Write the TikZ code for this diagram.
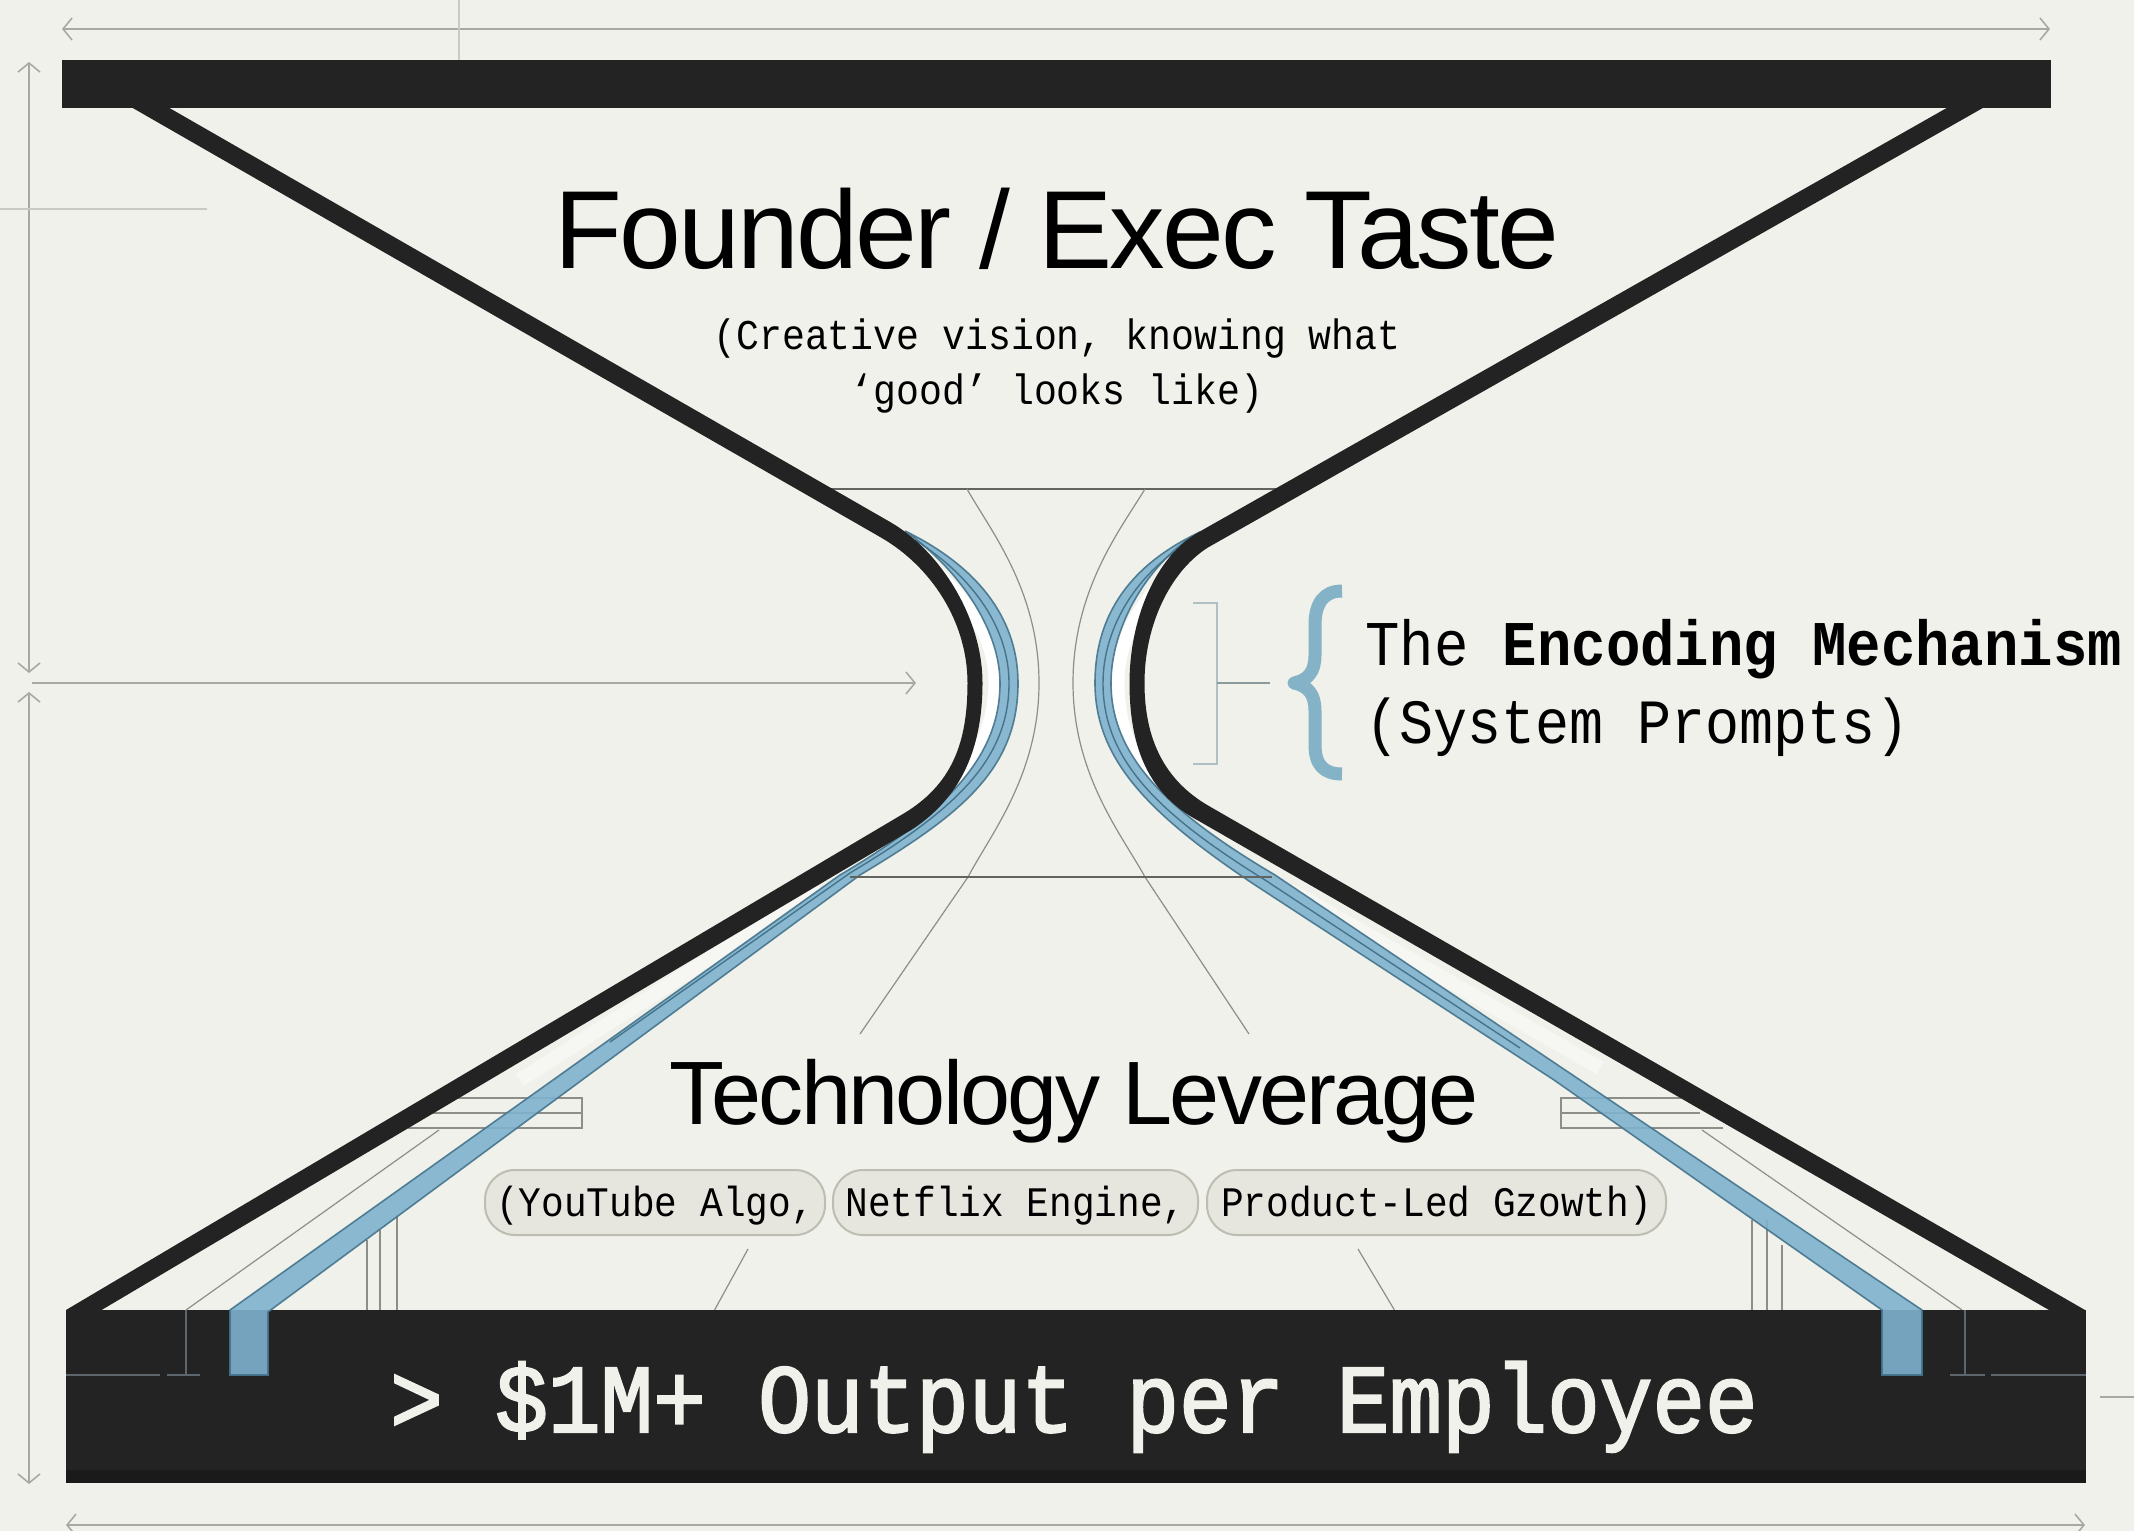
\documentclass[tikz,border=0pt]{standalone}
\usepackage{fontspec}
\usetikzlibrary{arrows.meta}
\setmainfont{Liberation Sans}
\newfontfamily\monofnt[FakeStretch=0.9]{Liberation Mono}
\newfontfamily\monomed[FakeStretch=0.9,FakeBold=2.2]{Liberation Mono}
\definecolor{paper}{HTML}{F0F1EA}
\definecolor{ink}{HTML}{232323}
\definecolor{inkdeep}{HTML}{1A1A1A}
\definecolor{dimgrey}{HTML}{A9A9A3}
\definecolor{faint}{HTML}{CACAC4}
\definecolor{thingrey}{HTML}{8E8E88}
\definecolor{ribbon}{HTML}{7FB2CE}
\definecolor{ribbonedge}{HTML}{44748C}
\definecolor{bracegrey}{HTML}{AFC0C3}
\definecolor{bluebrace}{HTML}{84B2C6}
\definecolor{pillfill}{HTML}{DEDDD4}
\definecolor{pillside}{HTML}{E7E6DE}
\definecolor{pilledge}{HTML}{BDBDB2}
\definecolor{barline}{HTML}{5C666C}
\tikzset{
  dimline/.style={draw=dimgrey,line width=1.6pt},
  dimarrow/.style={dimline,{Straight Barb[length=9pt,width=22pt,line width=1.6pt]}-{Straight Barb[length=9pt,width=22pt,line width=1.6pt]}},
  tiparrow/.style={dimline,line width=2.4pt,-{Straight Barb[length=9pt,width=22pt,line width=1.6pt]}},
  faintline/.style={draw=faint,line width=1.3pt},
  thinline/.style={draw=thingrey,line width=1.2pt},
  hline/.style={draw=thingrey!70!black,line width=2pt},
  scaffold/.style={draw=thingrey,line width=1.3pt},
  barmark/.style={draw=barline,line width=1.6pt},
  blackside/.style={fill=ink,draw=none},
  ribbonfill/.style={fill=ribbon,draw=ribbonedge,line width=1.6pt,fill opacity=.9,draw opacity=.9},
  ribbonmid/.style={draw=ribbonedge,line width=1.4pt},
  gap/.style={draw=white,line width=13pt},
  softgap/.style={draw=white,line width=14pt,draw opacity=.45},
  bar/.style={fill=ink,draw=none},
  title/.style={anchor=base,inner sep=0pt,text=black},
  mono/.style={anchor=base,inner sep=0pt,text=black},
  pill/.style={rounded corners=30pt,draw=pilledge,line width=2pt,left color=pillside,middle color=pillfill,right color=pillside,inner sep=0pt},
}
\begin{document}
\begin{tikzpicture}[x=1pt,y=-1pt]
\useasboundingbox (0,0) rectangle (2134,1531);
\fill[paper] (0,0) rectangle (2134,1531);

% dimension lines
\coordinate (topL) at (62,29); \coordinate (topR) at (2050,29);
\draw[dimarrow] (topL) -- (topR);
\coordinate (botL) at (66,1525); \coordinate (botR) at (2085,1525);
\draw[dimarrow] (botL) -- (botR);
\coordinate (vA) at (29,62); \coordinate (vB) at (29,673);
\draw[dimarrow] (vA) -- (vB);
\coordinate (vC) at (29,692); \coordinate (vD) at (29,1484);
\draw[dimarrow] (vC) -- (vD);
\coordinate (hA) at (32,683); \coordinate (hB) at (916,683);
\draw[tiparrow] (hA) -- (hB);
\coordinate (t1) at (459,0); \coordinate (t2) at (459,60);
\draw[faintline] (t1) -- (t2);
\coordinate (t3) at (0,209); \coordinate (t4) at (207,209);
\draw[faintline] (t3) -- (t4);
\coordinate (t5) at (2100,1397); \coordinate (t6) at (2134,1397);
\draw[dimline,line width=1.3pt] (t5) -- (t6);

% neck guides
\coordinate (nTL) at (830,489); \coordinate (nTR) at (1282,489);
\coordinate (nBL) at (850,877); \coordinate (nBR) at (1272,877);
\draw[hline] (nTL) -- (nTR);
\draw[thinline] (967,489) .. controls (990,530) and (1039,590) .. (1039,683)
  .. controls (1039,775) and (990,835) .. (968,877) -- (860,1034);
\draw[thinline] (1145,489) .. controls (1120,530) and (1073,590) .. (1073,683)
  .. controls (1073,775) and (1122,835) .. (1145,877) -- (1249,1034);
\coordinate (sLa) at (748,1249); \coordinate (sLb) at (714,1311);
\coordinate (sRa) at (1358,1249); \coordinate (sRb) at (1395,1311);
\draw[thinline] (sLa) -- (sLb);
\draw[thinline] (sRa) -- (sRb);

% soft light bands beside the black lines
\draw[softgap] (820,888) -- (620,1016) -- (520,1080);
\draw[softgap] (1290,890) -- (1513,1018) -- (1600,1068);

% scaffolds
\draw[scaffold] (449,1098) -- (582,1098) -- (582,1128) -- (408,1128);
\draw[scaffold,line width=2pt] (425,1113) -- (582,1113);
\draw[scaffold] (1681,1098) -- (1561,1098) -- (1561,1128) -- (1723,1128);
\draw[scaffold,line width=2pt] (1561,1113) -- (1700,1113);
\draw[scaffold] (367,1240) -- (367,1310);
\draw[scaffold] (380,1230) -- (380,1310);
\draw[scaffold] (397,1215) -- (397,1310);
\draw[scaffold] (1752,1220) -- (1752,1310);
\draw[scaffold] (1767,1220) -- (1767,1310);
\draw[scaffold] (1782,1245) -- (1782,1310);
\draw[thinline] (439,1130) -- (186,1310);
\draw[thinline] (1702,1130) -- (1962,1310);

% bars
\fill[bar] (62,60) rectangle (2051,108);
\node[bar,minimum width=2020pt,minimum height=173pt,inner sep=0pt] (base) at (1076,1396.5) {};
\fill[inkdeep] (66,1470) rectangle (2086,1483);
\draw[barmark] (186,1310) -- (186,1375);
\draw[barmark] (66,1375) -- (160,1375);
\draw[barmark] (167,1375) -- (200,1375);
\draw[barmark] (1965,1310) -- (1965,1375);
\draw[barmark] (1950,1375) -- (1985,1375);
\draw[barmark] (1991,1375) -- (2086,1375);

% white gaps next to the throat
\draw[gap] (930,565) .. controls (975,610) and (995,640) .. (995,683) .. controls (995,730) and (970,780) .. (925,820);
\draw[gap] (1180,565) .. controls (1140,600) and (1118,640) .. (1118,683) .. controls (1118,735) and (1140,780) .. (1185,820);

% blue ribbons
\draw[ribbonfill] (268,1375) -- (268,1312) -- (582,1080) -- (860,875)
  .. controls (960,815) and (1018,770) .. (1018,683)
  .. controls (1018,625) and (985,570) .. (905,531)
  .. controls (960,570) and (1000,630) .. (1000,683)
  .. controls (1000,755) and (950,810) .. (840,875)
  -- (553,1080) -- (230,1310) -- (230,1375) -- cycle;
\draw[ribbonmid] (915,540) .. controls (975,578) and (1009,630) .. (1009,683)
  .. controls (1009,760) and (955,810) .. (850,873) -- (610,1042);
\draw[ribbonfill] (1882,1375) -- (1882,1310) -- (1554,1080) -- (1255,885)
  .. controls (1150,815) and (1095,760) .. (1095,683)
  .. controls (1095,615) and (1130,565) .. (1200,532)
  .. controls (1150,560) and (1111,625) .. (1111,683)
  .. controls (1111,755) and (1165,810) .. (1275,875)
  -- (1580,1080) -- (1922,1310) -- (1922,1375) -- cycle;
\draw[ribbonmid] (1190,542) .. controls (1140,570) and (1103,625) .. (1103,683)
  .. controls (1103,758) and (1155,812) .. (1265,880) -- (1520,1048);
\draw[hline] (nBL) -- (nBR);

% black hourglass sides, thicker on the diagonals than at the throat
\fill[blackside] (155.5,100) -- (890.5,522.2)
  .. controls (940.5,551.2) and (982.5,618) .. (982.5,683)
  .. controls (982.5,747) and (962,797) .. (911.6,829.7)
  -- (101.6,1310) -- (101.6,1316) -- (66,1316) -- (66,1310)
  -- (902.4,814.3) .. controls (952,785) and (967.5,743) .. (967.5,683)
  .. controls (967.5,622) and (931.5,567) .. (881.5,537.8)
  -- (131,107) -- (131,100) -- cycle;
\fill[blackside] (1960.8,100) -- (1198.6,532.2)
  .. controls (1155,557) and (1129.5,620) .. (1129.5,683)
  .. controls (1129.5,750) and (1150,795) .. (1198.5,820.8)
  -- (2049,1310) -- (2049,1316) -- (2085,1316) -- (2085,1310)
  -- (1207.5,805.2) .. controls (1165,780) and (1144.5,740) .. (1144.5,683)
  .. controls (1144.5,625) and (1170,572) .. (1207.4,547.8)
  -- (1996.9,100) -- cycle;

% encoding bracket and brace
\draw[draw=bracegrey,line width=2.6pt] (1193,603) -- (1217,603) -- (1217,764) -- (1193,764);
\coordinate (brM) at (1217,683); \coordinate (brE) at (1270,683);
\draw[draw=bracegrey!80!black,line width=2.6pt] (brM) -- (brE);
\draw[draw=bluebrace,line width=13pt,line join=round] (1342,591) .. controls (1324,591) and (1315,603) .. (1315,625)
  -- (1315,655) .. controls (1315,672) and (1308,680) .. (1294,683)
  .. controls (1308,686) and (1315,694) .. (1315,711)
  -- (1315,745) .. controls (1315,765) and (1324,774) .. (1342,774);

% texts
\node[title] (founder) at (1057,268) {\fontsize{111}{111}\selectfont\addfontfeature{LetterSpace=-2.5}Founder / Exec Taste};
\node[mono] (sub1) at (1057,349) {\monofnt\fontsize{42.4}{44}\selectfont (Creative vision, knowing what};
\node[mono] (sub2) at (1057,404) {\monofnt\fontsize{42.4}{44}\selectfont ‘good’ looks like)};
\node[title] (tech) at (1074,1124) {\fontsize{90}{90}\selectfont\addfontfeature{LetterSpace=-3}Technology Leverage};
\node[mono,anchor=base west] (enc1) at (1365,665) {\monofnt\fontsize{63.7}{64}\selectfont The \textbf{Encoding Mechanism}};
\node[mono,anchor=base west] (enc2) at (1365,743) {\monofnt\fontsize{63}{64}\selectfont (System Prompts)};
\node[pill,minimum width=340pt,minimum height=65pt] (p1) at (655,1202.5) {};
\node[pill,minimum width=365pt,minimum height=65pt] (p2) at (1015.5,1202.5) {};
\node[pill,minimum width=459pt,minimum height=65pt] (p3) at (1436.5,1202.5) {};
\node[mono] (p1t) at (p1.center |- 0,1216) {\monofnt\fontsize{42}{44}\selectfont (YouTube Algo,};
\node[mono] (p2t) at (p2.center |- 0,1216) {\monofnt\fontsize{42}{44}\selectfont Netflix Engine,};
\node[mono] (p3t) at (p3.center |- 0,1216) {\monofnt\fontsize{42}{44}\selectfont Product-Led Gzowth)};
\node[mono,text=paper] (output) at (1074,1432) {\monomed\fontsize{97.4}{97}\selectfont > \$1M+ Output per Employee};
\end{tikzpicture}
\end{document}
